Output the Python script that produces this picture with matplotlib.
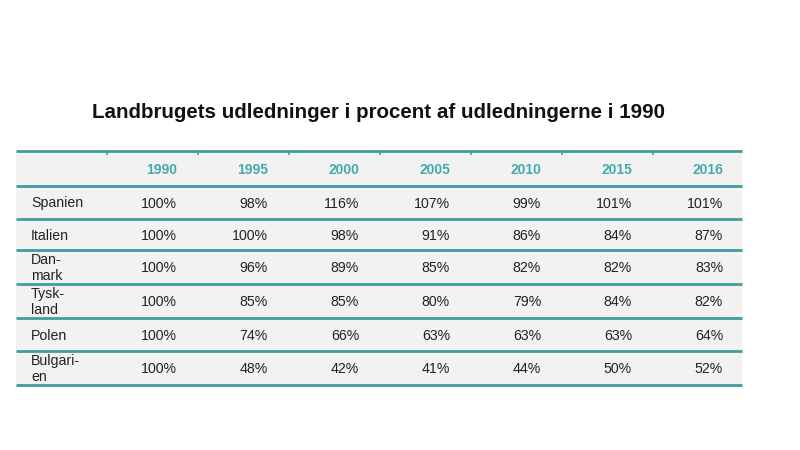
import matplotlib
matplotlib.use("Agg")
import matplotlib.pyplot as plt

title = "Landbrugets udledninger i procent af udledningerne i 1990"
years = ["1990", "1995", "2000", "2005", "2010", "2015", "2016"]
countries = ["Spanien", "Italien", "Dan-\nmark", "Tysk-\nland", "Polen", "Bulgari-\nen"]
spanien = [100, 98, 116, 107, 99, 101, 101]
italien = [100, 100, 98, 91, 86, 84, 87]
danmark = [100, 96, 89, 85, 82, 82, 83]
tyskland = [100, 85, 85, 80, 79, 84, 82]
polen = [100, 74, 66, 63, 63, 63, 64]
bulgarien = [100, 48, 42, 41, 44, 50, 52]
values = [spanien, italien, danmark, tyskland, polen, bulgarien]

plt.rcParams['font.family'] = ['Liberation Sans', 'DejaVu Sans']

fig = plt.figure(figsize=(8, 4.5), dpi=100)
ax = fig.add_axes([0, 0, 1, 1])
ax.set_xlim(0, 800)
ax.set_ylim(450, 0)
ax.axis('off')

teal_line = "#3d9ea0"
teal_text = "#45a9ad"
bg = "#f2f2f2"

left, right = 16, 742
row_edges = [151, 186, 219, 250, 284, 318, 351, 385]
col_right = [177 + 91 * i for i in range(len(years))]
tick_x = [107 + 91 * i for i in range(len(years))]

ax.add_patch(plt.Rectangle((left, row_edges[0]), right - left,
                           row_edges[-1] - row_edges[0], color=bg, lw=0, zorder=0))
for y in row_edges:
    ax.plot([left, right], [y, y], color=teal_line, lw=2.0, zorder=2,
            solid_capstyle='butt')
for x in tick_x:
    ax.plot([x, x], [row_edges[0], row_edges[0] + 3], color=teal_line, lw=1.2, zorder=2)

ax.text(378, 112, title, ha='center', va='center', fontsize=14.8,
        fontweight='bold', color='#111111')

hy = (row_edges[0] + row_edges[1]) / 2 + 1
for x, yr in zip(col_right, years):
    ax.text(x, hy, yr, ha='right', va='center', fontsize=10,
            fontweight='bold', color=teal_text)

for r, (name, row) in enumerate(zip(countries, values)):
    cy = (row_edges[r + 1] + row_edges[r + 2]) / 2 + 1
    ax.text(31, cy, name, ha='left', va='center', fontsize=10.2,
            color='#222222', linespacing=1.1)
    for x, v in zip(col_right, row):
        ax.text(x, cy, f"{v}%", ha='right', va='center', fontsize=10.2,
                color='#222222')

fig.savefig("out.png", dpi=100, facecolor='white')
